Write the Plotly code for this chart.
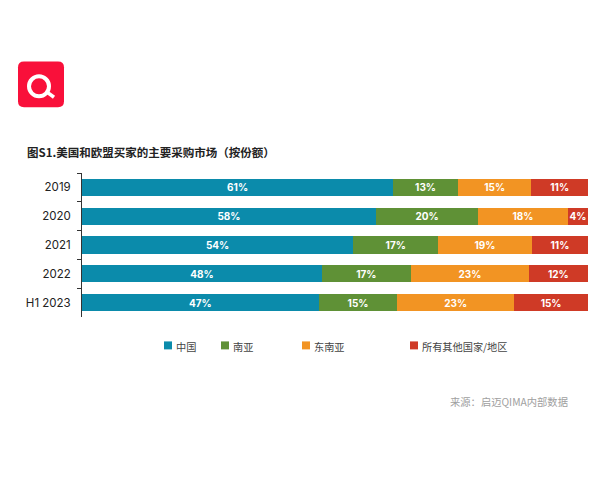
import plotly.graph_objects as go

periods = ["2019", "2020", "2021", "2022", "H1 2023"]
regions = ["中国", "南亚", "东南亚", "所有其他国家/地区"]

# printed labels
china_labels = ["61%", "58%", "54%", "48%", "47%"]
south_asia_labels = ["13%", "20%", "17%", "17%", "15%"]
se_asia_labels = ["15%", "18%", "19%", "23%", "23%"]
other_labels = ["11%", "4%", "11%", "12%", "15%"]

# shares (the printed ones are rounded)
china = [61.5, 58.1, 53.6, 47.4, 46.8]
south_asia = [12.8, 20.2, 16.8, 17.6, 15.5]
se_asia = [14.5, 17.7, 18.5, 23.3, 23.1]
other = [11.2, 4.0, 11.1, 11.7, 14.6]

colors = ["#0b8bab", "#5f9136", "#f29423", "#cf3a26"]
legend_x = [164, 221, 302, 410]

W, H = 600, 480
L, R, T, B = 82, 588, 173, 317.5
CJK = "Noto Sans CJK SC"
LATIN = "Inter"


def px(x):
    return (x - L) / (R - L)


def py(y):
    return (B - y) / (B - T)


fig = go.Figure()
series = [china, south_asia, se_asia, other]
labels = [china_labels, south_asia_labels, se_asia_labels, other_labels]
for name, vals, txt, c in zip(regions, series, labels, colors):
    fig.add_trace(go.Bar(
        y=periods, x=vals, name=name, orientation="h",
        marker=dict(color=c, line=dict(width=0)),
        text=txt, textposition="inside", insidetextanchor="middle", textangle=0,
        textfont=dict(family=LATIN, size=10, color="white", weight=700),
        constraintext="none", showlegend=False,
    ))

fig.update_layout(
    width=W, height=H, barmode="stack", bargap=0.4,
    margin=dict(l=L, r=W - R, t=T, b=H - B, autoexpand=False),
    paper_bgcolor="white", plot_bgcolor="white",
    font=dict(family=LATIN, color="#222222"),
)
fig.update_xaxes(range=[0, 100], visible=False)
fig.update_yaxes(
    autorange="reversed", tickson="boundaries", ticks="outside", ticklen=4,
    tickcolor="#333333", showline=True, linecolor="#333333", linewidth=1,
    showgrid=False, zeroline=False, ticklabelstandoff=8,
    tickfont=dict(family=LATIN, size=11.5, color="#222222"),
)

# title and source
fig.add_annotation(
    text="图S1.美国和欧盟买家的主要采购市场（按份额）", xref="paper", yref="paper",
    x=px(25), y=py(152), xanchor="left", yanchor="middle", showarrow=False,
    font=dict(family=CJK, size=11.5, color="#222222", weight=700),
)
fig.add_annotation(
    text="来源：启迈QIMA内部数据", xref="paper", yref="paper",
    x=px(570), y=py(402.5), xanchor="right", yanchor="middle", showarrow=False,
    font=dict(family=CJK, size=10.3, color="#a0a0a0"),
)

# legend, spaced unevenly like the original
for name, c, x in zip(regions, colors, legend_x):
    fig.add_shape(type="rect", xref="paper", yref="paper", x0=px(x), x1=px(x + 8),
                  y0=py(350), y1=py(342), fillcolor=c, line_width=0)
    fig.add_annotation(
        text=name, xref="paper", yref="paper", x=px(x + 10), y=py(347.5),
        xanchor="left", yanchor="middle", showarrow=False,
        font=dict(family=CJK, size=10.2, color="#444444"),
    )

# logo
fig.add_shape(type="path", xref="paper", yref="paper", fillcolor="#f9103a", line_width=0,
              path=f"M {px(24)} {py(61)} L {px(58)} {py(61)} Q {px(64)} {py(61)} {px(64)} {py(67)} "
                   f"L {px(64)} {py(101)} Q {px(64)} {py(107)} {px(58)} {py(107)} "
                   f"L {px(24)} {py(107)} Q {px(18)} {py(107)} {px(18)} {py(101)} "
                   f"L {px(18)} {py(67)} Q {px(18)} {py(61)} {px(24)} {py(61)} Z")
fig.add_shape(type="circle", xref="paper", yref="paper", x0=px(29), x1=px(49), y0=py(96), y1=py(76),
              line=dict(color="white", width=4), fillcolor="rgba(0,0,0,0)")
fig.add_shape(type="line", xref="paper", yref="paper", x0=px(46), x1=px(54), y0=py(91), y1=py(97),
              line=dict(color="white", width=3.5))

# page has a default 8px body margin that would push the figure off the window
fig.write_html("out.html", config={"displayModeBar": False},
               post_script="document.body.style.margin = '0';")
